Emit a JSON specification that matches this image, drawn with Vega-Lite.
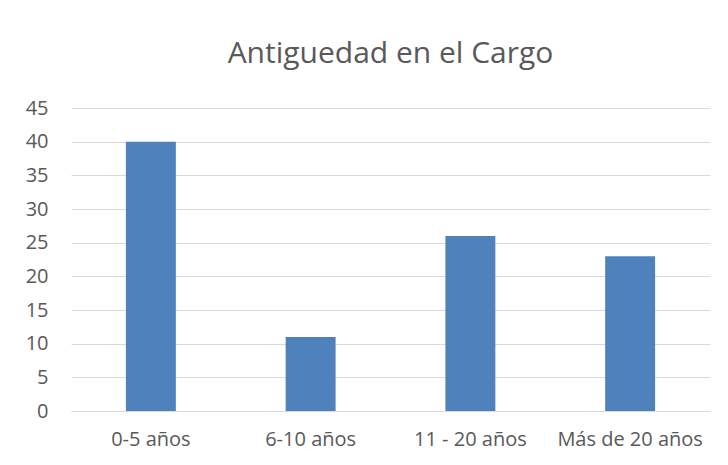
{
  "$schema": "https://vega.github.io/schema/vega-lite/v6.json",
  "width": 639,
  "height": 303,
  "autosize": {"type": "none"},
  "padding": {"left": 71, "top": 108, "right": 18, "bottom": 54},
  "background": "white",
  "title": {
    "text": "Antiguedad en el Cargo",
    "font": "Open Sans",
    "fontSize": 30,
    "fontWeight": "normal",
    "color": "#595959",
    "anchor": "middle",
    "offset": 29
  },
  "data": {
    "values": [
      {"categoria": "0-5 años", "valor": 40},
      {"categoria": "6-10 años", "valor": 11},
      {"categoria": "11 - 20 años", "valor": 26},
      {"categoria": "Más de 20 años", "valor": 23}
    ]
  },
  "mark": {"type": "bar", "color": "#4F81BD"},
  "encoding": {
    "x": {
      "field": "categoria",
      "type": "nominal",
      "sort": null,
      "scale": {"paddingInner": 0.6875, "paddingOuter": 0.34375},
      "axis": {
        "title": null,
        "labelAngle": 0,
        "ticks": false,
        "domain": true,
        "domainColor": "#d9d9d9",
        "domainWidth": 1,
        "labelPadding": 18,
        "labelFont": "Open Sans",
        "labelFontSize": 20,
        "labelColor": "#595959"
      }
    },
    "y": {
      "field": "valor",
      "type": "quantitative",
      "scale": {"domain": [0, 45], "nice": false},
      "axis": {
        "title": null,
        "values": [0, 5, 10, 15, 20, 25, 30, 35, 40, 45],
        "ticks": false,
        "domain": false,
        "grid": true,
        "gridColor": "#d9d9d9",
        "gridWidth": 1,
        "labelPadding": 23,
        "labelFont": "Open Sans",
        "labelFontSize": 20,
        "labelColor": "#595959"
      }
    }
  },
  "config": {"view": {"stroke": null}}
}
